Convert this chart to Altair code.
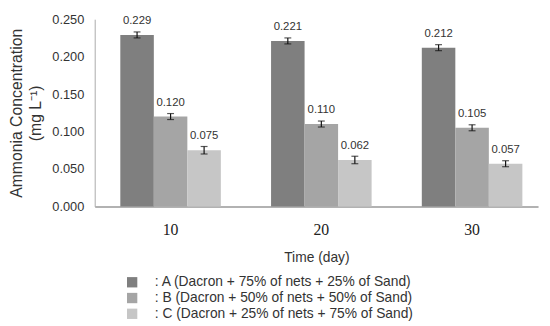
import altair as alt
import pandas as pd

times = ["10", "20", "30"]
groups = [
    ": A (Dacron + 75% of nets + 25% of Sand)",
    ": B (Dacron + 50% of nets + 50% of Sand)",
    ": C (Dacron + 25% of nets + 75% of Sand)",
]
values_a = [0.229, 0.221, 0.212]
values_b = [0.120, 0.110, 0.105]
values_c = [0.075, 0.062, 0.057]
errors_a = [0.004, 0.004, 0.004]
errors_b = [0.004, 0.004, 0.004]
errors_c = [0.005, 0.005, 0.004]
y_ticks = [0.0, 0.05, 0.10, 0.15, 0.20, 0.25]
colors = ["#7f7f7f", "#a5a5a5", "#c6c6c6"]

rows = []
for g, vals, errs in zip(groups, [values_a, values_b, values_c], [errors_a, errors_b, errors_c]):
    for t, v, e in zip(times, vals, errs):
        rows.append({"time": t, "group": g, "value": v, "lo": v - e, "hi": v + e,
                     "label": f"{v:.3f}"})
df = pd.DataFrame(rows)

FONT = "Liberation Sans"
xscale = alt.Scale(domain=times, paddingInner=0.333, paddingOuter=0.137, align=0.62)
xoff = alt.XOffset("group:N", scale=alt.Scale(domain=groups, paddingInner=0, paddingOuter=0))
yscale = alt.Scale(domain=[0, 0.25], nice=False)
yaxis = alt.Axis(title=["Ammonia Concentration", "(mg  L\u207b\u00b9)"],
                 values=y_ticks, format=".3f", labelOverlap=False,
                 grid=False, ticks=False, labelPadding=11,
                 labelFont=FONT, labelFontSize=13, labelColor="#333",
                 titleFont=FONT, titleFontSize=16, titleFontWeight="normal",
                 titleColor="#333", titlePadding=8, titleLineHeight=20,
                 domainColor="#aaa")

def Y(field):
    return alt.Y(field, scale=yscale, axis=yaxis)

base = alt.Chart(df).encode(
    x=alt.X("time:N", scale=xscale,
            axis=alt.Axis(title="Time (day)", labelAngle=0, ticks=False,
                          labelFont="Liberation Serif", labelFontSize=16, labelColor="#222",
                          labelPadding=16, titleFont=FONT, titleFontSize=14,
                          titleFontWeight="normal", titleColor="#333", titlePadding=13,
                          domainColor="#999", domainWidth=1.5)),
    xOffset=xoff,
)

bars = base.mark_bar(stroke=None).encode(
    y=Y("value:Q"),
    color=alt.Color("group:N", scale=alt.Scale(domain=groups, range=colors),
                    legend=alt.Legend(title=None, orient="none", legendX=31, legendY=260,
                                      symbolType="square", symbolSize=110,
                                      symbolStrokeWidth=0, labelFont=FONT,
                                      labelFontSize=14, labelColor="#333",
                                      labelOffset=16, rowPadding=2, labelLimit=400)),
)

err = base.mark_rule(color="#111", strokeWidth=1.2).encode(y=Y("lo:Q"), y2="hi:Q")
cap_lo = base.mark_tick(color="#111", thickness=1.2, size=7, orient="horizontal").encode(y=Y("lo:Q"))
cap_hi = base.mark_tick(color="#111", thickness=1.2, size=7, orient="horizontal").encode(y=Y("hi:Q"))

labels = base.mark_text(font=FONT, fontSize=11.5, color="#333", dy=-14, baseline="middle").encode(
    y=Y("value:Q"), text="label:N")

chart = alt.layer(bars, err, cap_lo, cap_hi, labels).properties(
    width=450, height=190,
    autosize=alt.AutoSizeParams(type="none"),
    padding={"left": 88, "top": 9, "right": 4, "bottom": 118},
).configure_view(stroke=None)

chart.save("out.html", embed_options={"renderer": "svg", "actions": False})
